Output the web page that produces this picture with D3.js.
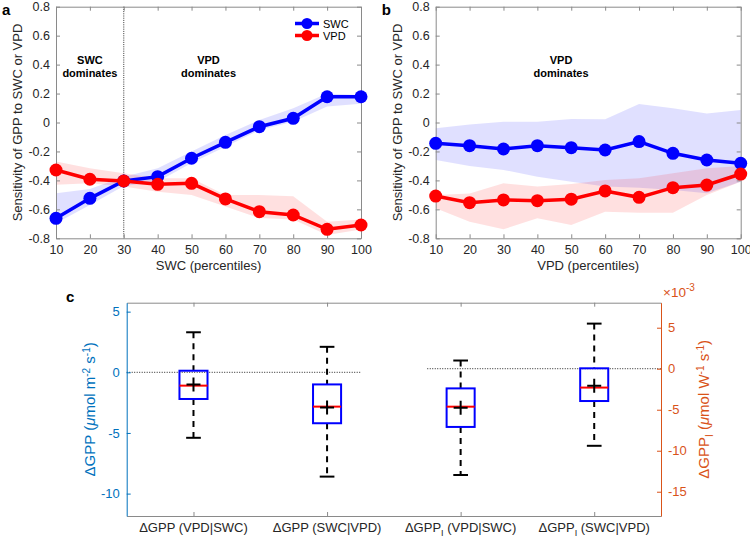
<!DOCTYPE html>
<html><head><meta charset="utf-8">
<script src="https://cdn.jsdelivr.net/npm/d3@7"></script>
<style>
body{margin:0;background:#fff;}
svg{font-family:"Liberation Sans",Arial,Helvetica,sans-serif;}
</style></head>
<body>
<svg id="chart" width="750" height="541"></svg>
<script>
// ---------- DATA ----------
const percentiles = [10,20,30,40,50,60,70,80,90,100];
const pTicks = [10,20,30,40,50,60,70,80,90,100];
const sTicks = [-0.8,-0.6,-0.4,-0.2,0,0.2,0.4,0.6,0.8];

// panel a (binned by SWC)
const aSWC   = [-0.662,-0.524,-0.404,-0.374,-0.247,-0.137,-0.029,0.029,0.178,0.178];
const aSWCHi = [-0.489,-0.46,-0.374,-0.316,-0.2,-0.086,0.017,0.098,0.2,0.19];
const aSWCLo = [-0.696,-0.57,-0.438,-0.41,-0.28,-0.167,-0.052,0.006,0.11,0.13];
const aVPD   = [-0.328,-0.392,-0.404,-0.427,-0.42,-0.528,-0.616,-0.639,-0.738,-0.708];
const aVPDHi = [-0.27,-0.316,-0.35,-0.385,-0.385,-0.5,-0.5,-0.51,-0.685,-0.67];
const aVPDLo = [-0.43,-0.42,-0.443,-0.478,-0.5,-0.58,-0.66,-0.67,-0.777,-0.74];

// panel b (binned by VPD)
const bSWC   = [-0.144,-0.16,-0.183,-0.16,-0.174,-0.19,-0.132,-0.213,-0.259,-0.282];
const bSWCHi = [-0.04,-0.013,0.006,0.006,0.024,0.022,0.128,0.098,0.063,0.086];
const bSWCLo = [-0.259,-0.3,-0.328,-0.374,-0.409,-0.443,-0.45,-0.466,-0.489,-0.409];
const bVPD   = [-0.508,-0.554,-0.535,-0.54,-0.53,-0.473,-0.517,-0.45,-0.432,-0.356];
const bVPDHi = [-0.5,-0.49,-0.42,-0.443,-0.425,-0.397,-0.385,-0.351,-0.316,-0.3];
const bVPDLo = [-0.593,-0.685,-0.738,-0.662,-0.708,-0.616,-0.623,-0.623,-0.5,-0.41];

// panel c boxplots
const boxCats   = ["VPD|SWC","SWC|VPD","VPD|SWC","SWC|VPD"];
const boxIsI    = [false,false,true,true];   // ΔGPP_I (right axis, ×10^-3)
const boxWhiHi  = [3.3, 2.1, 1.0, 5.5];
const boxQ3     = [0.13,-1.0,-2.4,0.05];
const boxMedian = [-1.1,-2.83,-4.63,-2.3];
const boxMean   = [-1.0,-2.9,-4.75,-2.07];
const boxQ1     = [-2.2,-4.2,-7.1,-3.94];
const boxWhiLo  = [-5.4,-8.6,-12.96,-9.4];
const leftTicks  = [5,0,-5,-10];
const rightTicks = [5,0,-5,-10,-15];

// ---------- STYLE ----------
const BLUE="#0000ff", RED="#ff0000", AX="#8a8a8a", TXT="#262626";
const CBLUE="#0072BD", CORANGE="#D95319";
const svg = d3.select("#chart");
const fmt = d => d===0 ? "0" : (d<0?"-":"") + Math.abs(d).toFixed(1);

function panel(x0, x1, title, xlabel, series, notes, legend){
  const x = d3.scaleLinear().domain([10,100]).range([x0,x1]);
  const y = d3.scaleLinear().domain([-0.8,0.8]).range([238.3,6.7]);
  const g = svg.append("g");
  // bands
  series.forEach(s=>{
    const area = d3.area().x((d,i)=>x(percentiles[i])).y0((d,i)=>y(s.lo[i])).y1((d,i)=>y(s.hi[i]));
    g.append("path").attr("d",area(s.v)).attr("fill",s.c).attr("fill-opacity",0.12).attr("stroke","none");
  });
  // axes
  const ya = g.append("g").attr("transform",`translate(${x0},0)`)
    .call(d3.axisLeft(y).tickValues(sTicks).tickFormat(fmt).tickSizeInner(-4).tickSizeOuter(0).tickPadding(6));
  const yr = g.append("g").attr("transform",`translate(${x1},0)`)
    .call(d3.axisRight(y).tickValues(sTicks).tickFormat("").tickSizeInner(-4).tickSizeOuter(0));
  const xa = g.append("g").attr("transform",`translate(0,${y(-0.8)})`)
    .call(d3.axisBottom(x).tickValues(pTicks).tickFormat(d3.format("d")).tickSizeInner(-4).tickSizeOuter(0).tickPadding(7));
  const xt = g.append("g").attr("transform",`translate(0,${y(0.8)})`)
    .call(d3.axisTop(x).tickValues(pTicks).tickFormat("").tickSizeInner(-4).tickSizeOuter(0));
  [ya,yr,xa,xt].forEach(a=>{
    a.select(".domain").attr("stroke",AX);
    a.selectAll(".tick line").attr("stroke",AX);
    a.selectAll("text").attr("fill",TXT).style("font-size","12.5px");
  });
  // notes
  notes.forEach(n=>{
    const t = g.append("text").attr("x",x(n.x)).attr("text-anchor","middle")
      .style("font-weight","bold").style("font-size","11px").attr("fill","#000");
    n.lines.forEach((l,k)=>t.append("tspan").attr("x",x(n.x)).attr("y",64+k*13).text(l));
  });
  // lines and markers
  series.forEach(s=>{
    const line = d3.line().x((d,i)=>x(percentiles[i])).y(d=>y(d));
    g.append("path").attr("d",line(s.v)).attr("fill","none").attr("stroke",s.c).attr("stroke-width",3.5);
    g.selectAll(null).data(s.v).enter().append("circle")
      .attr("cx",(d,i)=>x(percentiles[i])).attr("cy",d=>y(d)).attr("r",6.5).attr("fill",s.c);
  });
  // axis labels
  g.append("text").attr("x",(x0+x1)/2).attr("y",270).attr("text-anchor","middle")
    .attr("fill",TXT).style("font-size","13px").text(xlabel);
  g.append("text").attr("transform",`translate(${x0-34},${y(0)}) rotate(-90)`).attr("text-anchor","middle")
    .attr("fill",TXT).style("font-size","13px").text("Sensitivity of GPP to SWC or VPD");
  g.append("text").attr("x",x0-54).attr("y",15).style("font-weight","bold").style("font-size","15px").text(title);
  if(legend){
    series.forEach((s,k)=>{
      const ly = 23.5 + k*12;
      g.append("line").attr("x1",295).attr("x2",319).attr("y1",ly).attr("y2",ly).attr("stroke",s.c).attr("stroke-width",3.5);
      g.append("circle").attr("cx",307).attr("cy",ly).attr("r",5.5).attr("fill",s.c);
      g.append("text").attr("x",323).attr("y",ly+4).style("font-size","11px").attr("fill","#000").text(s.name);
    });
  }
  return {g,x,y};
}

const pa = panel(56,361,"a","SWC (percentiles)",
  [{name:"SWC",v:aSWC,hi:aSWCHi,lo:aSWCLo,c:BLUE},{name:"VPD",v:aVPD,hi:aVPDHi,lo:aVPDLo,c:RED}],
  [{x:20,lines:["SWC","dominates"]},{x:55,lines:["VPD","dominates"]}], true);
// dotted divider at 30th percentile
pa.g.insert("line",":nth-child(3)").attr("x1",pa.x(30)).attr("x2",pa.x(30)).attr("y1",pa.y(0.8)).attr("y2",pa.y(-0.8))
  .attr("stroke","#333").attr("stroke-width",1).attr("stroke-dasharray","1,1.2");

panel(435.7,740.7,"b","VPD (percentiles)",
  [{name:"SWC",v:bSWC,hi:bSWCHi,lo:bSWCLo,c:BLUE},{name:"VPD",v:bVPD,hi:bVPDHi,lo:bVPDLo,c:RED}],
  [{x:47,lines:["VPD","dominates"]}], false);

// ---------- PANEL C ----------
const cx = d3.scaleLinear().domain([0.5,4.5]).range([126.7,661]);
const yL = d3.scaleLinear().domain([-11.847,5.738]).range([516,302.7]);
const yR = d3.scaleLinear().domain([-17.96,8.05]).range([516,302.7]);
const gc = svg.append("g");
const catIdx = [1,2,3,4];

// zero reference lines
gc.append("line").attr("x1",cx(0.5)).attr("x2",cx(2.25)).attr("y1",yL(0)).attr("y2",yL(0))
  .attr("stroke","#222").attr("stroke-width",1).attr("stroke-dasharray","1,1.5");
gc.append("line").attr("x1",cx(2.75)).attr("x2",cx(4.5)).attr("y1",yR(0)).attr("y2",yR(0))
  .attr("stroke","#222").attr("stroke-width",1).attr("stroke-dasharray","1,1.5");

// axes
const bx = gc.append("g").attr("transform",`translate(0,${yL.range()[0]})`)
  .call(d3.axisBottom(cx).tickValues(catIdx).tickFormat("").tickSizeInner(-4).tickSizeOuter(0));
const tx = gc.append("g").attr("transform",`translate(0,${yL.range()[1]})`)
  .call(d3.axisTop(cx).tickValues(catIdx).tickFormat("").tickSizeInner(-4).tickSizeOuter(0));
[bx,tx].forEach(a=>{a.select(".domain").attr("stroke",AX);a.selectAll(".tick line").attr("stroke",AX);});
const la = gc.append("g").attr("transform",`translate(${cx(0.5)},0)`)
  .call(d3.axisLeft(yL).tickValues(leftTicks).tickFormat(d=>d<0?"-"+(-d):String(d)).tickSizeInner(-4).tickSizeOuter(0).tickPadding(7));
const ra = gc.append("g").attr("transform",`translate(${cx(4.5)},0)`)
  .call(d3.axisRight(yR).tickValues(rightTicks).tickFormat(d=>d<0?"-"+(-d):String(d)).tickSizeInner(-4).tickSizeOuter(0).tickPadding(7));
la.selectAll(".domain,.tick line").attr("stroke",CBLUE);
la.selectAll("text").attr("fill",CBLUE).style("font-size","13px");
ra.selectAll(".domain,.tick line").attr("stroke",CORANGE);
ra.selectAll("text").attr("fill",CORANGE).style("font-size","13px");

// boxes
const bw = 0.21, cw = 0.11;
catIdx.forEach((c,i)=>{
  const ys = boxIsI[i] ? yR : yL;
  const xc = cx(c);
  const hw = (cx(c+bw/2)-cx(c-bw/2))/2, cwp = (cx(c+cw/2)-cx(c-cw/2))/2;
  gc.append("line").attr("x1",xc).attr("x2",xc).attr("y1",ys(boxWhiHi[i])).attr("y2",ys(boxQ3[i]))
    .attr("stroke","#000").attr("stroke-width",2).attr("stroke-dasharray","6,5");
  gc.append("line").attr("x1",xc).attr("x2",xc).attr("y1",ys(boxQ1[i])).attr("y2",ys(boxWhiLo[i]))
    .attr("stroke","#000").attr("stroke-width",2).attr("stroke-dasharray","6,5");
  [boxWhiHi[i],boxWhiLo[i]].forEach(v=>gc.append("line").attr("x1",xc-cwp).attr("x2",xc+cwp)
    .attr("y1",ys(v)).attr("y2",ys(v)).attr("stroke","#000").attr("stroke-width",2));
  gc.append("rect").attr("x",xc-hw).attr("width",2*hw).attr("y",ys(boxQ3[i])).attr("height",ys(boxQ1[i])-ys(boxQ3[i]))
    .attr("fill","none").attr("stroke",BLUE).attr("stroke-width",2);
  gc.append("line").attr("x1",xc-hw).attr("x2",xc+hw).attr("y1",ys(boxMedian[i])).attr("y2",ys(boxMedian[i]))
    .attr("stroke",RED).attr("stroke-width",2);
  const my = ys(boxMean[i]);
  gc.append("path").attr("d",`M${xc-7},${my}H${xc+7}M${xc},${my-7}V${my+7}`).attr("stroke","#000").attr("stroke-width",2);
  // category label
  const t = gc.append("text").attr("x",xc).attr("y",532).attr("text-anchor","middle").attr("fill",TXT).style("font-size","13px");
  t.append("tspan").text("ΔGPP");
  if(boxIsI[i]){ t.append("tspan").attr("dy",4).style("font-size","9px").text("I"); t.append("tspan").attr("dy",-4).text(" ("+boxCats[i]+")"); }
  else t.append("tspan").text(" ("+boxCats[i]+")");
});

// axis labels
const ll = gc.append("text").attr("transform",`translate(95,${(302.7+516)/2}) rotate(-90)`).attr("text-anchor","middle")
  .attr("fill",CBLUE).style("font-size","15px");
ll.append("tspan").text("ΔGPP (");
ll.append("tspan").style("font-style","italic").text("μ");
ll.append("tspan").text("mol m");
ll.append("tspan").attr("dy",-5).style("font-size","10px").text("-2");
ll.append("tspan").attr("dy",5).text(" s");
ll.append("tspan").attr("dy",-5).style("font-size","10px").text("-1");
ll.append("tspan").attr("dy",5).text(")");

const rl = gc.append("text").attr("transform",`translate(709,${(302.7+516)/2}) rotate(-90)`).attr("text-anchor","middle")
  .attr("fill",CORANGE).style("font-size","15px");
rl.append("tspan").text("ΔGPP");
rl.append("tspan").attr("dy",4).style("font-size","10px").text("I");
rl.append("tspan").attr("dy",-4).text(" (");
rl.append("tspan").style("font-style","italic").text("μ");
rl.append("tspan").text("mol W");
rl.append("tspan").attr("dy",-5).style("font-size","10px").text("-1");
rl.append("tspan").attr("dy",5).text(" s");
rl.append("tspan").attr("dy",-5).style("font-size","10px").text("-1");
rl.append("tspan").attr("dy",5).text(")");

const ex = gc.append("text").attr("x",663).attr("y",297).attr("fill",CORANGE).style("font-size","13.5px");
ex.append("tspan").text("×10");
ex.append("tspan").attr("dy",-6).style("font-size","10px").text("-3");

gc.append("text").attr("x",66).attr("y",302).style("font-weight","bold").style("font-size","15px").text("c");
</script>
</body></html>
